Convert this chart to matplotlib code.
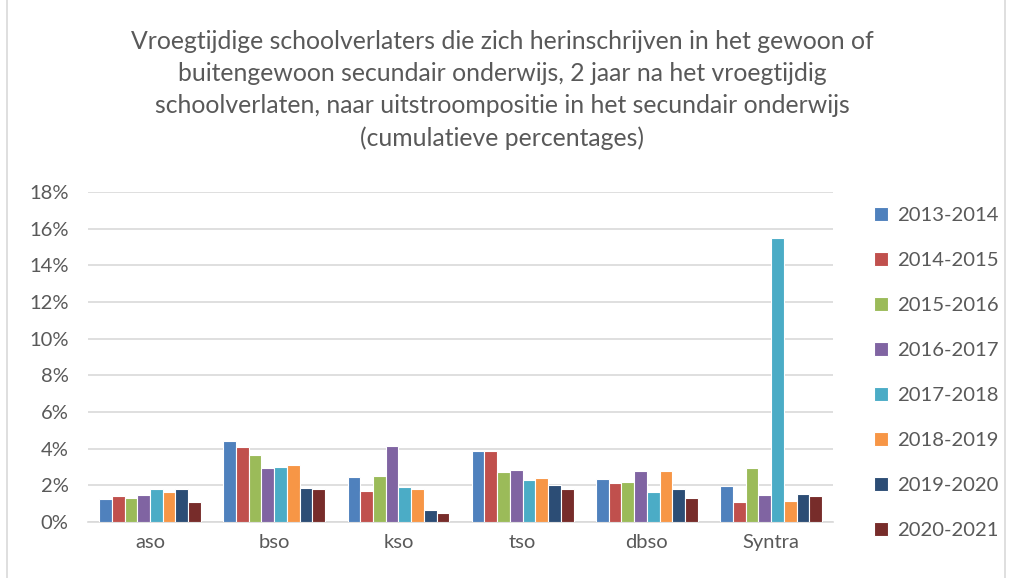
import numpy as np
import matplotlib
matplotlib.use("Agg")
import matplotlib.pyplot as plt
from matplotlib.patches import Rectangle
from matplotlib.ticker import FuncFormatter

plt.rcParams['font.family'] = ['Lato', 'DejaVu Sans']

categories = ["aso", "bso", "kso", "tso", "dbso", "Syntra"]
years = ["2013-2014", "2014-2015", "2015-2016", "2016-2017",
         "2017-2018", "2018-2019", "2019-2020", "2020-2021"]

# percentages per school year, one value per category
values = {
    "2013-2014": [1.24, 4.39, 2.44, 3.86, 2.35, 1.95],
    "2014-2015": [1.42, 4.06, 1.68, 3.86, 2.15, 1.11],
    "2015-2016": [1.29, 3.63, 2.53, 2.73, 2.20, 2.95],
    "2016-2017": [1.46, 2.93, 4.12, 2.82, 2.77, 1.46],
    "2017-2018": [1.77, 3.01, 1.90, 2.26, 1.64, 15.5],
    "2018-2019": [1.62, 3.08, 1.77, 2.39, 2.80, 1.13],
    "2019-2020": [1.80, 1.86, 0.64, 2.00, 1.77, 1.51],
    "2020-2021": [1.08, 1.77, 0.49, 1.80, 1.28, 1.44],
}

colors = ["#4F81BD", "#C0504D", "#9BBB59", "#8064A2",
          "#4BACC6", "#F79646", "#2C4D75", "#772C2A"]

title = ("Vroegtijdige schoolverlaters die zich herinschrijven in het gewoon of\n"
         "buitengewoon secundair onderwijs, 2 jaar na het vroegtijdig\n"
         "schoolverlaten, naar uitstroompositie in het secundair onderwijs\n"
         "(cumulatieve percentages)")

fig = plt.figure(figsize=(10.1, 5.78), dpi=100)
ax = fig.add_axes([0.087, 0.097, 0.738, 0.571])

x = np.arange(len(categories))
bw = 0.1025
for i, yr in enumerate(years):
    off = (i - (len(years) - 1) / 2) * bw
    ax.bar(x + off, values[yr], bw, color=colors[i], edgecolor="white",
           linewidth=0.8, label=yr, zorder=3)

ax.set_xlim(-0.5, len(categories) - 0.5)
ax.set_ylim(0, 18)
ax.set_yticks(np.arange(0, 19, 2))
ax.yaxis.set_major_formatter(FuncFormatter(lambda v, p: "%d%%" % v))
ax.set_xticks(x)
ax.set_xticklabels(categories)
ax.tick_params(axis="both", length=0, labelsize=14.5, labelcolor="#595959")
ax.tick_params(axis="y", pad=14)
ax.tick_params(axis="x", pad=9)
ax.grid(axis="y", color="#D9D9D9", linewidth=1.2, zorder=0)
for s in ["top", "right", "left"]:
    ax.spines[s].set_visible(False)
ax.spines["bottom"].set_color("#D9D9D9")
ax.spines["bottom"].set_linewidth(1.2)

fig.text(0.497, 0.948, title, ha="center", va="top", fontsize=17.8,
         color="#595959", linespacing=1.47)

leg = fig.legend(loc="upper left", bbox_to_anchor=(0.847, 0.674), frameon=False,
                 fontsize=14.6, labelcolor="#595959", handlelength=0.7,
                 handleheight=0.7, handletextpad=0.45, labelspacing=1.37)

fig.patches.append(Rectangle((0.007, -0.01), 0.988, 1.02, transform=fig.transFigure,
                             fill=False, edgecolor="#D9D9D9", linewidth=1.2))

fig.savefig("out.png", dpi=100)
